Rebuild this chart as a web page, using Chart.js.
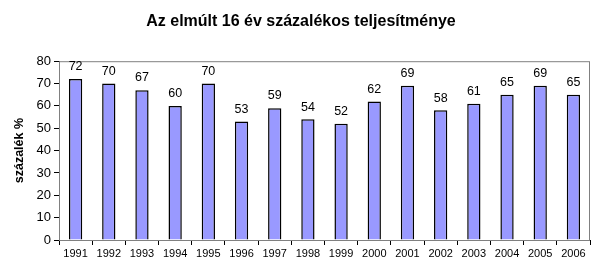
<!DOCTYPE html>
<html>
<head>
<meta charset="utf-8">
<script src="https://cdn.jsdelivr.net/npm/chart.js@4/dist/chart.umd.min.js"></script>
<style>
  html, body { margin: 0; padding: 0; background: #fff; }
  #wrap { width: 600px; height: 275px; }
</style>
</head>
<body>
<div id="wrap"><canvas id="chart"></canvas></div>
<script>
// évek és százalékok
const years  = ["1991", "1992", "1993", "1994", "1995", "1996", "1997", "1998",
                "1999", "2000", "2001", "2002", "2003", "2004", "2005", "2006"];
const values = [72, 70, 67, 60, 70, 53, 59, 54, 52, 62, 69, 58, 61, 65, 69, 65];
const yTicks = [0, 10, 20, 30, 40, 50, 60, 70, 80];

const FONT = "'Liberation Sans', Arial, sans-serif";

// szürke keret a rajzterület körül
const frame = {
  id: "frame",
  beforeDatasetsDraw(chart) {
    const { ctx, chartArea: a } = chart;
    ctx.save();
    ctx.strokeStyle = "#808080";
    ctx.lineWidth = 1;
    ctx.strokeRect(a.left + 0.5, a.top + 0.5, a.right - a.left - 1, a.bottom - a.top);
    ctx.restore();
  }
};

// értékek az oszlopok fölött
const valueLabels = {
  id: "valueLabels",
  afterDatasetsDraw(chart) {
    const { ctx } = chart;
    const meta = chart.getDatasetMeta(0);
    ctx.save();
    ctx.fillStyle = "#000";
    ctx.font = "12.5px " + FONT;
    ctx.textAlign = "center";
    ctx.textBaseline = "bottom";
    meta.data.forEach((bar, i) => {
      ctx.fillText(values[i], bar.x, bar.y - 6);
    });
    ctx.restore();
  }
};

new Chart(document.getElementById("chart"), {
  type: "bar",
  data: {
    labels: years,
    datasets: [{
      data: values,
      backgroundColor: "#9999FF",
      borderColor: "#000",
      borderWidth: 1.5,
      barPercentage: 0.8,
      categoryPercentage: 0.5
    }]
  },
  plugins: [frame, valueLabels],
  options: {
    responsive: true,
    maintainAspectRatio: false,
    animation: false,
    layout: { padding: { left: 12, right: 10, top: 0, bottom: 0 } },
    plugins: {
      legend: { display: false },
      tooltip: { enabled: false },
      title: {
        display: true,
        text: "Az elmúlt 16 év százalékos teljesítménye",
        color: "#000",
        font: { family: FONT, size: 16, weight: "bold" },
        padding: { top: 12, bottom: 30 }
      }
    },
    scales: {
      x: {
        grid: { display: true, drawOnChartArea: false, drawTicks: true, tickLength: 5, color: "#000", offset: true },
        border: { color: "#000" },
        ticks: { color: "#000", font: { family: FONT, size: 11 }, maxRotation: 0, autoSkip: false, padding: 2 },
        afterFit(scale) { scale.height = 35; }
      },
      y: {
        min: 0,
        max: 80,
        afterBuildTicks(scale) { scale.ticks = yTicks.map(v => ({ value: v })); },
        grid: { display: true, drawOnChartArea: false, drawTicks: true, tickLength: 5, color: "#000" },
        border: { color: "#000" },
        ticks: { color: "#000", font: { family: FONT, size: 13 }, padding: 3 },
        title: {
          display: true,
          text: "százalék %",
          color: "#000",
          font: { family: FONT, size: 12.5, weight: "bold" },
          padding: { top: 0, bottom: 4 }
        },
        afterFit(scale) { scale.width = 47; }
      }
    }
  }
});
</script>
</body>
</html>
